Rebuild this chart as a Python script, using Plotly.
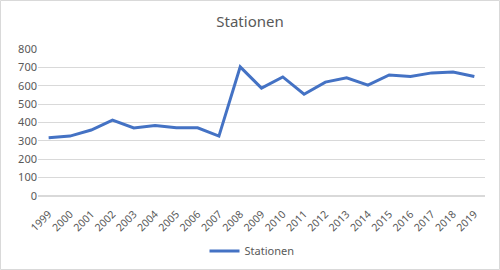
import plotly.graph_objects as go

years = [str(y) for y in range(1999, 2020)]
stationen = [317, 326, 359, 413, 370, 384, 371, 371, 326, 703, 587, 648, 554, 620, 643, 603, 659, 650, 670, 675, 650]

W, H = 500, 270
ml, mr, mt, mb = 38, 15, 49, 74
pw, ph = W - ml - mr, H - mt - mb

fig = go.Figure()
fig.add_trace(go.Scatter(x=years, y=stationen, mode="lines", name="Stationen",
                         line=dict(color="#4472C4", width=3)))

fig.update_layout(
    width=W, height=H,
    margin=dict(l=ml, r=mr, t=mt, b=mb, autoexpand=False),
    paper_bgcolor="white", plot_bgcolor="white",
    font=dict(family="Noto Sans", color="#595959", size=11),
    title=dict(text="Stationen", x=0.5, xanchor="center", y=1 - 22 / H, yanchor="middle",
               font=dict(size=15, color="#595959")),
    showlegend=True,
    legend=dict(orientation="h", x=(252 - ml) / pw, xanchor="center", y=-(251 - 196) / ph,
                yanchor="middle", itemwidth=30,
                font=dict(size=11, color="#595959")),
    xaxis=dict(type="category", tickangle=-45, showgrid=False, ticks="", automargin=False,
               range=[-0.5, 20.5], tickfont=dict(size=10.5), showline=False,
               ticklabelstandoff=9),
    yaxis=dict(range=[0, 800], dtick=100, showgrid=True, gridcolor="#D9D9D9", gridwidth=1,
               automargin=False,
               zeroline=True, zerolinecolor="#D9D9D9", ticks="", tickfont=dict(size=11)),
)
fig.add_shape(type="rect", xref="paper", yref="paper",
              x0=(0.5 - ml) / pw, x1=(W - 0.5 - ml) / pw,
              y0=-(mb - 0.5) / ph, y1=1 + (mt - 0.5) / ph,
              line=dict(color="#D9D9D9", width=1), fillcolor="rgba(0,0,0,0)")
fig.write_html("out.html")
